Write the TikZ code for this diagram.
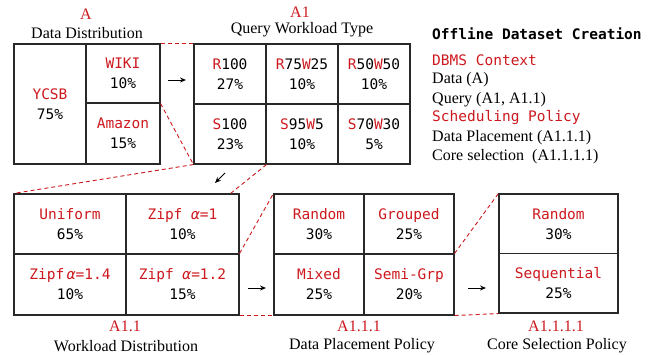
\documentclass[tikz,border=0pt]{standalone}
\usepackage{fontspec}
\setmainfont{Liberation Serif}
\setmonofont{DejaVu Sans Mono}
\usetikzlibrary{arrows.meta}
\definecolor{myred}{RGB}{205,25,30}
\definecolor{boxc}{RGB}{40,40,40}
\newcommand\redt[1]{\textcolor{myred}{#1}}
\newcommand\alf{\textit{α}}
\newcommand\cellfont{\ttfamily\fontsize{14.5}{20}\selectfont}
\newcommand\labfont{\rmfamily\fontsize{16}{19}\selectfont}
\tikzset{
  cell/.style={draw=boxc, line width=1.1pt, inner sep=0pt, align=center, font=\cellfont},
  zoomline/.style={draw=myred, line width=0.9pt, dash pattern=on 4pt off 3pt},
  flow/.style={draw=black, line width=0.9pt, -{Stealth[length=6pt,width=5pt]}},
  lab/.style={font=\labfont, inner sep=0pt},
  redlab/.style={font=\labfont, text=myred, inner sep=0pt},
  side/.style={font=\labfont, inner sep=0pt, anchor=west},
  sidemono/.style={font=\cellfont, inner sep=0pt, anchor=west}
}
\begin{document}
\begin{tikzpicture}[x=1pt,y=-1pt]
\useasboundingbox[fill=white] (0,0) rectangle (667,355);

% ---- A: Data Distribution
\node[cell, minimum width=72pt, minimum height=120pt] (ycsb) at (50,104) {\redt{YCSB}\\75\%};
\node[cell, minimum width=74pt, minimum height=59pt] (wiki) at (123,73.5) {\redt{WIKI}\\10\%};
\node[cell, minimum width=74pt, minimum height=61pt] (amaz) at (123,133.5) {\redt{Amazon}\\15\%};
\node[redlab] (labA) at (86,14) {A};
\node[lab] (labAt) at (87,33) {Data Distribution};

% ---- A1: Query Workload Type
\node[cell, minimum width=72pt, minimum height=60pt] (r100) at (230,74) {\redt{R}100\\27\%};
\node[cell, minimum width=72pt, minimum height=60pt] (r75) at (302,74) {\redt{R}75\redt{W}25\\10\%};
\node[cell, minimum width=72pt, minimum height=60pt] (r50) at (374,74) {\redt{R}50\redt{W}50\\10\%};
\node[cell, minimum width=72pt, minimum height=60pt] (s100) at (230,134) {\redt{S}100\\23\%};
\node[cell, minimum width=72pt, minimum height=60pt] (s95) at (302,134) {\redt{S}95\redt{W}5\\10\%};
\node[cell, minimum width=72pt, minimum height=60pt] (s70) at (374,134) {\redt{S}70\redt{W}30\\5\%};
\node[redlab] (labA1) at (300,12) {A1};
\node[lab] (labA1t) at (302,30) {Query Workload Type};

% ---- A1.1: Workload Distribution
\node[cell, minimum width=112pt, minimum height=60pt] (uni) at (70,224) {\redt{Uniform}\\65\%};
\node[cell, minimum width=113pt, minimum height=60pt] (z1) at (182.5,224) {\redt{Zipf \alf=1}\\10\%};
\node[cell, minimum width=112pt, minimum height=61pt] (z14) at (70,284.5) {\redt{Zipf\,\alf=1.4}\\10\%};
\node[cell, minimum width=113pt, minimum height=61pt] (z12) at (182.5,284.5) {\redt{Zipf \alf=1.2}\\15\%};
\node[redlab] (labA11) at (125,326) {A1.1};
\node[lab] (labA11t) at (126,346) {Workload Distribution};

% ---- A1.1.1: Data Placement Policy
\node[cell, minimum width=90pt, minimum height=60pt] (rnd) at (319,224) {\redt{Random}\\30\%};
\node[cell, minimum width=90pt, minimum height=60pt] (grp) at (409,224) {\redt{Grouped}\\25\%};
\node[cell, minimum width=90pt, minimum height=61pt] (mix) at (319,284.5) {\redt{Mixed}\\25\%};
\node[cell, minimum width=90pt, minimum height=61pt] (semi) at (409,284.5) {\redt{Semi-Grp}\\20\%};
\node[redlab] (labA111) at (359,326) {A1.1.1};
\node[lab] (labA111t) at (362,346) {Data Placement Policy};

% ---- A1.1.1.1: Core Selection Policy
\node[cell, minimum width=119pt, minimum height=59.5pt] (crnd) at (558.5,223.75) {\redt{Random}\\30\%};
\node[cell, minimum width=119pt, minimum height=59.5pt] (cseq) at (558.5,283.25) {\redt{Sequential}\\25\%};
\node[redlab] (labA1111) at (556,326) {A1.1.1.1};
\node[lab] (labA1111t) at (557,346) {Core Selection Policy};

% ---- side text
\node[sidemono, font=\cellfont\bfseries] (t0) at (432,34) {Offline Dataset Creation};
\node[sidemono, text=myred] (t1) at (432,60) {DBMS Context};
\node[side] (t2) at (432,80) {Data (A)};
\node[side] (t3) at (432,100) {Query (A1, A1.1)};
\node[sidemono, text=myred] (t4) at (432,118) {Scheduling Policy};
\node[side] (t5) at (432,138) {Data Placement (A1.1.1)};
\node[side] (t6) at (432,157) {Core selection\ \ (A1.1.1.1)};

% ---- arrows
\coordinate (ar1s) at (168,80); \coordinate (ar1e) at (186,80);
\coordinate (ar2s) at (225,173); \coordinate (ar2e) at (215,183);
\coordinate (ar3s) at (248,288); \coordinate (ar3e) at (266,288);
\coordinate (ar4s) at (468,288); \coordinate (ar4e) at (486,288);
\draw[flow] (ar1s) -- (ar1e);
\draw[flow] (ar2s) -- (ar2e);
\draw[flow] (ar3s) -- (ar3e);
\draw[flow] (ar4s) -- (ar4e);

% ---- zoom lines
\coordinate (z1t) at ([xshift=-9pt]z1.north east);
\draw[zoomline] ([yshift=-0.5pt]wiki.north east) -- ([yshift=-0.5pt]r100.north west);
\draw[zoomline] (wiki.south east) -- (s100.south west);
\draw[zoomline] (s100.south west) -- (uni.north west);
\draw[zoomline] (s100.south east) -- (z1t);
\draw[zoomline] (z12.north east) -- (rnd.north west);
\draw[zoomline] (z12.south east) -- (mix.south west);
\draw[zoomline] (semi.north east) -- (crnd.north west);
\draw[zoomline] (semi.south east) -- (cseq.south west);
\end{tikzpicture}
\end{document}
